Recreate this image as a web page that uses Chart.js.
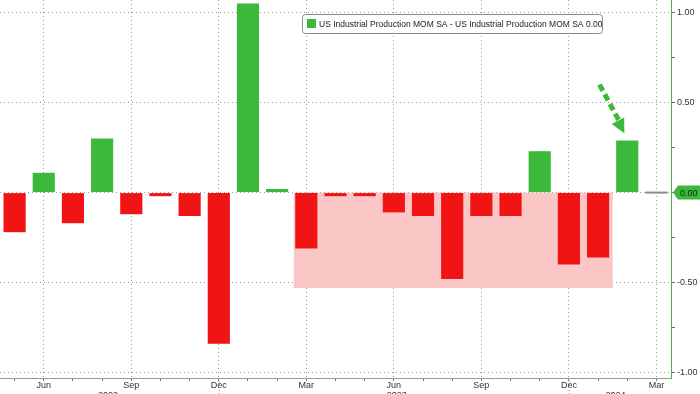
<!DOCTYPE html>
<html>
<head>
<meta charset="utf-8">
<script src="https://cdn.jsdelivr.net/npm/chart.js@4/dist/chart.umd.min.js"></script>
<style>
  html, body { margin: 0; padding: 0; background: #fff; }
  #wrap { width: 700px; height: 394px; position: relative; }
</style>
</head>
<body>
<div id="wrap"><canvas id="ipChart"></canvas></div>
<script>
// monthly data, May 2022 .. Mar 2024
const categories = ['May 2022', 'Jun 2022', 'Jul 2022', 'Aug 2022', 'Sep 2022', 'Oct 2022', 'Nov 2022', 'Dec 2022',
    'Jan 2023', 'Feb 2023', 'Mar 2023', 'Apr 2023', 'May 2023', 'Jun 2023', 'Jul 2023', 'Aug 2023', 'Sep 2023',
    'Oct 2023', 'Nov 2023', 'Dec 2023', 'Jan 2024', 'Feb 2024', 'Mar 2024'];
const momValues = [-0.22, 0.11, -0.17, 0.30, -0.12, -0.02, -0.13, -0.84, 1.05, 0.02, -0.31, -0.02, -0.02,
    -0.11, -0.13, -0.48, -0.13, -0.13, 0.23, -0.40, -0.36, 0.29, 0.00];
const shownMonths = ['Jun', 'Sep', 'Dec', 'Mar'];
const yTickValues = [-1, -0.75, -0.5, -0.25, 0, 0.25, 0.5, 0.75, 1];
const yLabelValues = [-1, -0.5, 0, 0.5, 1];
const yearLabels = ['2022', '2023', '2024'];
const yearLabelAt = [3.2, 13.1, 20.6];
const yearBreaks = [7, 19];
const legendText = 'US Industrial Production MOM SA - US Industrial Production MOM SA 0.00';
const lastValue = 0.00;

const GREEN = '#3cb93a';
const RED = '#f01414';
const GRID = '#9a9a9a';
const FONT = '"Liberation Sans", Arial, sans-serif';

const extras = {
    id: 'extras',
    beforeDatasetsDraw(chart) {
        // shaded band Mar 2023 - Jan 2024
        const {ctx, scales: {x, y}} = chart;
        const x0 = x.getPixelForValue(9.57), x1 = x.getPixelForValue(20.5);
        const y0 = y.getPixelForValue(0), y1 = y.getPixelForValue(-0.53);
        ctx.save();
        ctx.fillStyle = 'rgba(251, 198, 198, 1)';
        ctx.fillRect(x0, y0, x1 - x0, y1 - y0);
        ctx.restore();
    },
    afterDraw(chart) {
        const {ctx, chartArea, scales: {x, y}} = chart;
        ctx.save();

        // year labels under the month labels (cut off by the bottom edge)
        ctx.font = '9px ' + FONT;
        ctx.fillStyle = '#333';
        ctx.textAlign = 'center';
        ctx.textBaseline = 'top';
        yearLabels.forEach((t, i) => ctx.fillText(t, x.getPixelForValue(yearLabelAt[i]), 391));

        // year separators below the Dec grid lines
        ctx.strokeStyle = '#999';
        ctx.lineWidth = 1;
        ctx.setLineDash([1, 2]);
        yearBreaks.forEach(v => {
            const px = Math.round(x.getPixelForValue(v)) + 0.5;
            ctx.beginPath();
            ctx.moveTo(px, chartArea.bottom);
            ctx.lineTo(px, 394);
            ctx.stroke();
        });
        ctx.setLineDash([]);

        // legend box
        ctx.fillStyle = '#fff';
        ctx.strokeStyle = '#8a8a8a';
        ctx.beginPath();
        ctx.roundRect(302.5, 14.5, 300, 19, 3);
        ctx.fill();
        ctx.stroke();
        ctx.fillStyle = GREEN;
        ctx.fillRect(307, 19, 9, 9);
        ctx.fillStyle = '#222';
        ctx.font = '8.5px ' + FONT;
        ctx.textAlign = 'left';
        ctx.textBaseline = 'middle';
        ctx.fillText(legendText, 319, 24.5);

        // last value tag
        const ty = y.getPixelForValue(lastValue);
        const tx = chartArea.right + 2;
        ctx.fillStyle = GREEN;
        ctx.beginPath();
        ctx.moveTo(tx, ty);
        ctx.lineTo(tx + 5, ty - 7);
        ctx.lineTo(700, ty - 7);
        ctx.lineTo(700, ty + 7);
        ctx.lineTo(tx + 5, ty + 7);
        ctx.closePath();
        ctx.fill();
        ctx.fillStyle = '#0c2a0c';
        ctx.font = '9px ' + FONT;
        ctx.fillText(lastValue.toFixed(2), tx + 7, ty + 0.5);

        // dashed arrow pointing at Feb 2024
        const ax0 = x.getPixelForValue(20.05), ay0 = y.getPixelForValue(0.6);
        const ax1 = x.getPixelForValue(20.75), ay1 = y.getPixelForValue(0.39);
        const tipX = x.getPixelForValue(20.9), tipY = y.getPixelForValue(0.33);
        ctx.strokeStyle = GREEN;
        ctx.lineWidth = 5;
        ctx.setLineDash([7, 4]);
        ctx.beginPath();
        ctx.moveTo(ax0, ay0);
        ctx.lineTo(ax1, ay1);
        ctx.stroke();
        ctx.setLineDash([]);
        const ang = Math.atan2(tipY - ay0, tipX - ax0);
        ctx.fillStyle = GREEN;
        ctx.beginPath();
        ctx.moveTo(tipX, tipY);
        ctx.lineTo(tipX - 14 * Math.cos(ang) + 7 * Math.sin(ang), tipY - 14 * Math.sin(ang) - 7 * Math.cos(ang));
        ctx.lineTo(tipX - 14 * Math.cos(ang) - 7 * Math.sin(ang), tipY - 14 * Math.sin(ang) + 7 * Math.cos(ang));
        ctx.closePath();
        ctx.fill();
        ctx.restore();
    }
};

new Chart(document.getElementById('ipChart'), {
    type: 'bar',
    data: {
        labels: categories,
        datasets: [{
            data: momValues,
            backgroundColor: momValues.map(v => v > 0 ? GREEN : v < 0 ? RED : '#8a8a8a'),
            borderWidth: 0,
            minBarLength: 2,
            barPercentage: 0.76,
            categoryPercentage: 1
        }]
    },
    options: {
        responsive: true,
        maintainAspectRatio: false,
        animation: false,
        layout: {padding: 0},
        plugins: {legend: {display: false}, tooltip: {enabled: false}},
        scales: {
            x: {
                offset: true,
                afterFit: s => { s.height = 16; s.paddingLeft = 0; s.paddingRight = 0; },
                grid: {
                    offset: false,
                    color: c => shownMonths.includes(categories[c.index].slice(0, 3)) ? GRID : 'rgba(0,0,0,0)',
                    tickColor: '#777',
                    tickBorderDash: [],
                    tickLength: 3,
                    lineWidth: 1
                },
                border: {display: true, color: '#9a9a9a', dash: [1, 3]},
                ticks: {
                    autoSkip: false,
                    maxRotation: 0,
                    padding: -1,
                    color: '#333',
                    font: {size: 9, family: FONT},
                    callback: (v, i) => {
                        const m = categories[i].slice(0, 3);
                        return shownMonths.includes(m) ? m : '';
                    }
                }
            },
            y: {
                position: 'right',
                min: -1.03,
                max: 1.07,
                afterFit: s => { s.width = 29; s.paddingTop = 0; s.paddingBottom = 0; },
                afterBuildTicks: s => { s.ticks = yTickValues.map(v => ({value: v})); },
                grid: {
                    color: c => yLabelValues.includes(c.tick.value) ? GRID : 'rgba(0,0,0,0)',
                    tickColor: '#6a6a6a',
                    tickBorderDash: [],
                    tickLength: 4,
                    lineWidth: 1
                },
                border: {display: true, color: '#4cae4a', width: 1, dash: [1, 3]},
                ticks: {
                    padding: 2,
                    color: '#333',
                    font: {size: 9, family: FONT},
                    callback: v => yLabelValues.includes(v) ? v.toFixed(2) : ''
                }
            }
        }
    },
    plugins: [extras]
});
</script>
</body>
</html>
